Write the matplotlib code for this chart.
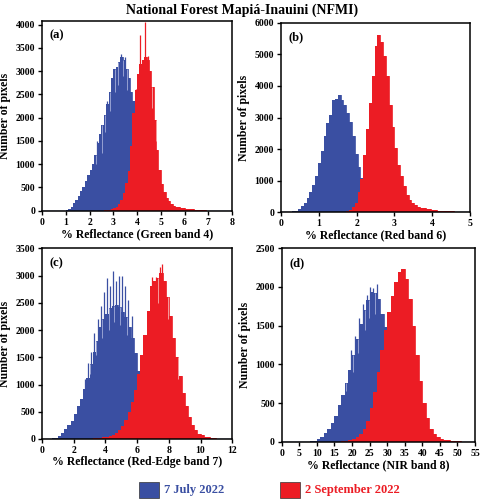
import numpy as np
import matplotlib
matplotlib.use("Agg")
import matplotlib.pyplot as plt
from matplotlib.patches import Rectangle

plt.rcParams['font.family'] = ['Liberation Serif', 'DejaVu Serif']
plt.rcParams['font.weight'] = 'bold'

BLUE = '#3a4fa2'
RED = '#ec1c24'
BLUE_LIGHT = '#95a0d2'
RED_LIGHT = '#f59a9c'

# ---------------- data (counts per bin) ----------------
# (a) Green band 4
a_blue_start, a_blue_w = 1.0, 0.1
a_blue = [15, 40, 90, 160, 240, 320, 420, 520, 640, 770, 880, 1000, 1200, 1450, 1650,
          1850, 2050, 2300, 2550, 2850, 3050, 3100, 3200, 3300, 3250, 3050, 2850, 2550,
          2350, 2150, 1850, 1500, 1150, 850, 600, 400, 260, 160, 100, 60, 35, 20, 10]
a_blue_spk_x = [2.32, 2.72, 3.02, 3.33, 3.48]
a_blue_spk_y = [1500, 2350, 3000, 3370, 3300]
a_blue_dip_x = [2.27, 2.52, 2.67, 2.88, 3.07, 3.22, 3.43, 3.58]
a_blue_dip_y = [1000, 1250, 1700, 2150, 2550, 2700, 2900, 2600]
a_red_start, a_red_w = 2.6, 0.1
a_red = [5, 10, 20, 35, 55, 85, 140, 220, 380, 600, 850, 1400, 2100, 2600, 2950, 3150,
         3250, 3300, 3250, 3000, 2650, 1950, 1300, 870, 580, 400, 280, 200, 140, 110, 90,
         75, 65, 55, 45, 40, 35, 30, 25, 20, 18, 15, 10]
a_red_spk_x = [3.94, 4.14, 4.35, 4.47]
a_red_spk_y = [2620, 3780, 4050, 3320]
a_red_dip_x = [4.62, 4.78]
a_red_dip_y = [2200, 1500]

# (b) Red band 6
b_blue_start, b_blue_w = 0.0, 0.075
b_blue = [0, 5, 10, 20, 35, 55, 110, 190, 310, 450, 640, 860, 1160, 1560, 1950, 2400, 2820,
          3080, 3550, 3570, 3700, 3560, 3400, 3150, 2850, 2420, 1850, 1420, 1100, 800, 520,
          320, 180, 90, 40, 15]
b_red_start, b_red_w = 1.65, 0.075
b_red = [20, 50, 80, 160, 300, 640, 1050, 1800, 2650, 3450, 4300, 5250, 5600, 5400, 4950,
         4300, 3400, 2700, 2050, 1500, 1150, 820, 560, 400, 290, 220, 180, 150, 125, 110,
         90, 75, 65, 55, 45, 40, 35, 30, 30, 25, 20, 15]

# (c) Red-Edge band 7
c_blue_start, c_blue_w = 0.4, 0.2
c_blue = [5, 10, 25, 60, 110, 180, 250, 330, 460, 600, 740, 920, 1120, 1370, 1600, 1800,
          2050, 2200, 2300, 2400, 2450, 2460, 2420, 2330, 2230, 2050, 1850, 1580, 1250, 980,
          720, 500, 330, 200, 110, 60, 30, 15]
c_blue_spk_x = [2.7, 2.9, 3.1, 3.3, 3.5, 3.7, 3.9, 4.1, 4.3, 4.45, 4.65, 4.85, 5.05, 5.25, 5.45, 5.65]
c_blue_spk_y = [1100, 1400, 1600, 1950, 2200, 2450, 2700, 2950, 2800, 3090, 2900, 3000, 2990, 2800, 2550, 2250]
c_blue_dip_x = [3.0, 3.4, 3.8, 4.2, 4.55, 4.95, 5.35]
c_blue_dip_y = [1200, 1550, 1850, 2000, 2150, 2100, 1900]
c_red_start, c_red_w = 3.0, 0.2
c_red = [5, 10, 15, 20, 30, 40, 50, 80, 110, 160, 240, 350, 500, 680, 900, 1200, 1550, 1900,
         2350, 2800, 2900, 2950, 3050, 2900, 2600, 2250, 1850, 1500, 1150, 850, 600, 400, 260,
         160, 100, 65, 45, 30, 20, 12, 8, 5, 3]
c_red_spk_x = [6.45, 6.95, 7.2, 7.45, 7.55]
c_red_spk_y = [1820, 2980, 2980, 3150, 3220]
c_red_dip_x = [7.3, 7.95, 8.6]
c_red_dip_y = [2500, 2200, 1100]

# (d) NIR band 8
d_blue_start, d_blue_w = 8.0, 1.0
d_blue = [5, 15, 35, 65, 110, 170, 240, 330, 470, 600, 760, 930, 1120, 1330, 1520, 1700,
          1830, 1930, 1920, 1850, 1650, 1480, 1150, 900, 650, 450, 280, 160, 90, 45, 20, 10]
d_blue_spk_x = [19.8, 20.8, 22.0, 23.2, 24.3, 25.2, 26.0, 27.2]
d_blue_spk_y = [1180, 1360, 1600, 1780, 1900, 2000, 1990, 2040]
d_blue_dip_x = [18.2, 20.3, 21.6, 23.6, 24.8, 26.5]
d_blue_dip_y = [650, 900, 1150, 1450, 1600, 1650]
d_red_start, d_red_w = 17.0, 1.0
d_red = [5, 10, 18, 35, 60, 100, 170, 270, 430, 640, 900, 1180, 1450, 1680, 1880, 2060,
         2190, 2230, 2100, 1850, 1500, 1120, 780, 500, 300, 170, 100, 60, 40, 28, 20, 14, 10, 6]

panel_tags = ['(a)', '(b)', '(c)', '(d)']
xlabels = ['% Reflectance (Green band 4)', '% Reflectance (Red band 6)',
           '% Reflectance (Red-Edge band 7)', '% Reflectance (NIR band 8)']
xlims = [(0, 8), (0, 5), (0, 12), (0, 55)]
xticks = [np.arange(0, 9, 1), np.arange(0, 6, 1), np.arange(0, 13, 2), np.arange(0, 56, 5)]
ylims = [(0, 4080), (0, 6000), (0, 3500), (0, 2500)]
yticks = [np.arange(0, 4001, 500), np.arange(0, 6001, 1000), np.arange(0, 3501, 500), np.arange(0, 2501, 500)]
legend_labels = ['7 July 2022', '2 September 2022']

# ---------------- figure ----------------
fig = plt.figure(figsize=(4.83, 5.0), dpi=100)
W, H = 483, 500
boxes = [(42, 21, 232, 210.7), (281, 22.7, 470, 212.3),
         (42, 248.3, 232.3, 439), (281.7, 248.3, 475, 441.7)]


def axes_px(l, t, r, b):
    return fig.add_axes([l / W, 1 - b / H, (r - l) / W, (b - t) / H])


def hist(ax, start, w, counts, color, z):
    edges = start + w * np.arange(len(counts) + 1)
    yy = np.append(counts, counts[-1])
    ax.fill_between(edges, 0, yy, step='post', color=color, lw=0, zorder=z)
    ax.step(edges, yy, where='post', color=color, lw=0.6, zorder=z)


def spikes(ax, xs, ys, color, z):
    if xs:
        ax.vlines(xs, 0, ys, color=color, lw=0.9, zorder=z)


def dips(ax, start, w, counts, xs, ys, color, z):
    if xs:
        tops = [counts[int((x - start) / w)] for x in xs]
        ax.vlines(xs, ys, tops, color=color, lw=0.7, zorder=z)


data = [
    (a_blue_start, a_blue_w, a_blue, a_blue_spk_x, a_blue_spk_y, a_blue_dip_x, a_blue_dip_y,
     a_red_start, a_red_w, a_red, a_red_spk_x, a_red_spk_y, a_red_dip_x, a_red_dip_y),
    (b_blue_start, b_blue_w, b_blue, [], [], [], [],
     b_red_start, b_red_w, b_red, [], [], [], []),
    (c_blue_start, c_blue_w, c_blue, c_blue_spk_x, c_blue_spk_y, c_blue_dip_x, c_blue_dip_y,
     c_red_start, c_red_w, c_red, c_red_spk_x, c_red_spk_y, c_red_dip_x, c_red_dip_y),
    (d_blue_start, d_blue_w, d_blue, d_blue_spk_x, d_blue_spk_y, d_blue_dip_x, d_blue_dip_y,
     d_red_start, d_red_w, d_red, [], [], [], []),
]

for i, box in enumerate(boxes):
    ax = axes_px(*box)
    (bs, bw, bc, bsx, bsy, bdx, bdy, rs, rw, rc, rsx, rsy, rdx, rdy) = data[i]
    ax.axhline(0, color=BLUE, lw=1.0, zorder=0.5)
    hist(ax, bs, bw, bc, BLUE, 1)
    spikes(ax, bsx, bsy, BLUE, 1.5)
    dips(ax, bs, bw, bc, bdx, bdy, BLUE_LIGHT, 1.6)
    hist(ax, rs, rw, rc, RED, 2)
    spikes(ax, rsx, rsy, RED, 2.5)
    dips(ax, rs, rw, rc, rdx, rdy, RED_LIGHT, 2.6)
    ax.set_xlim(*xlims[i])
    ax.set_ylim(*ylims[i])
    ax.set_xticks(xticks[i])
    ax.set_yticks(yticks[i])
    ax.tick_params(direction='out', length=3, width=1, labelsize=7, pad=2)
    for lab in ax.get_xticklabels() + ax.get_yticklabels():
        lab.set_fontweight('bold')
    for s in ax.spines.values():
        s.set_linewidth(1.1)
        s.set_zorder(5)
    ax.set_xlabel(xlabels[i], fontsize=8.5, fontweight='bold', labelpad=1)
    ax.set_ylabel('Number of pixels', fontsize=8.5, fontweight='bold', labelpad=3)
    ax.text(0.04, 0.955, panel_tags[i], transform=ax.transAxes, fontsize=9,
            fontweight='bold', va='top', ha='left')

fig.text(242 / W, 1 - 10 / H, 'National Forest Mapiá-Inauini (NFMI)', ha='center',
         va='center', fontsize=10, fontweight='bold')

# legend
fig.patches.append(Rectangle((139 / W, 1 - 498 / H), 20 / W, 16 / H, transform=fig.transFigure,
                             facecolor=BLUE, edgecolor='#333333', lw=0.5))
fig.text(164 / W, 1 - 490 / H, legend_labels[0], color=BLUE, fontsize=9,
         fontweight='bold', va='center', ha='left')
fig.patches.append(Rectangle((280 / W, 1 - 498 / H), 20 / W, 16 / H, transform=fig.transFigure,
                             facecolor=RED, edgecolor='#333333', lw=0.5))
fig.text(305 / W, 1 - 490 / H, legend_labels[1], color=RED, fontsize=9,
         fontweight='bold', va='center', ha='left')

fig.savefig('out.png', dpi=100)
